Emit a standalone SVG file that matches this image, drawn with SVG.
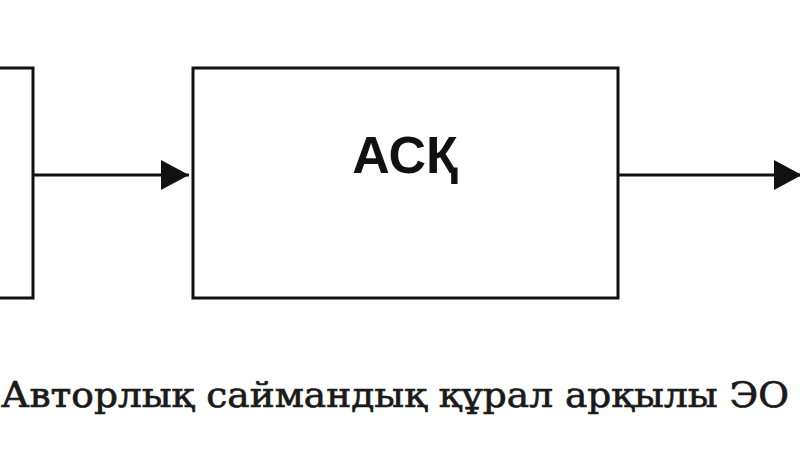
<svg xmlns="http://www.w3.org/2000/svg" width="800" height="450" viewBox="0 0 800 450">
<style>
.box{fill:#fff;stroke:#111;stroke-width:3}
.edge{stroke:#111;stroke-width:3;fill:none}
.lbl{font-family:"Liberation Sans",Arial,sans-serif;font-weight:bold;font-size:52px;fill:#111}
.cap{font-family:"DejaVu Serif","Liberation Serif",serif;font-size:36px;fill:#1a1a1a;stroke:#1a1a1a;stroke-width:0.7}
</style>
<defs>
<marker id="ah" viewBox="0 0 28 30" refX="28" refY="15" markerWidth="28" markerHeight="30" markerUnits="userSpaceOnUse" orient="auto">
<path d="M0,0 L28,15 L0,30 Z" fill="#111"/>
</marker>
</defs>
<rect width="800" height="450" fill="#fff"/>
<g id="node-left"><rect class="box" x="-20" y="68" width="53" height="230"/></g>
<g id="node-ask"><rect class="box" x="193" y="68" width="425" height="230"/><text class="lbl" x="405" y="173" text-anchor="middle">АСҚ</text></g>
<g id="connectors">
<line class="edge" x1="33" y1="175" x2="189" y2="175" marker-end="url(#ah)"/>
<line class="edge" x1="618" y1="175" x2="802" y2="175" marker-end="url(#ah)"/>
</g>
<text class="cap" x="1" y="407" textLength="788" lengthAdjust="spacingAndGlyphs">Авторлық саймандық құрал арқылы ЭО</text>
</svg>
